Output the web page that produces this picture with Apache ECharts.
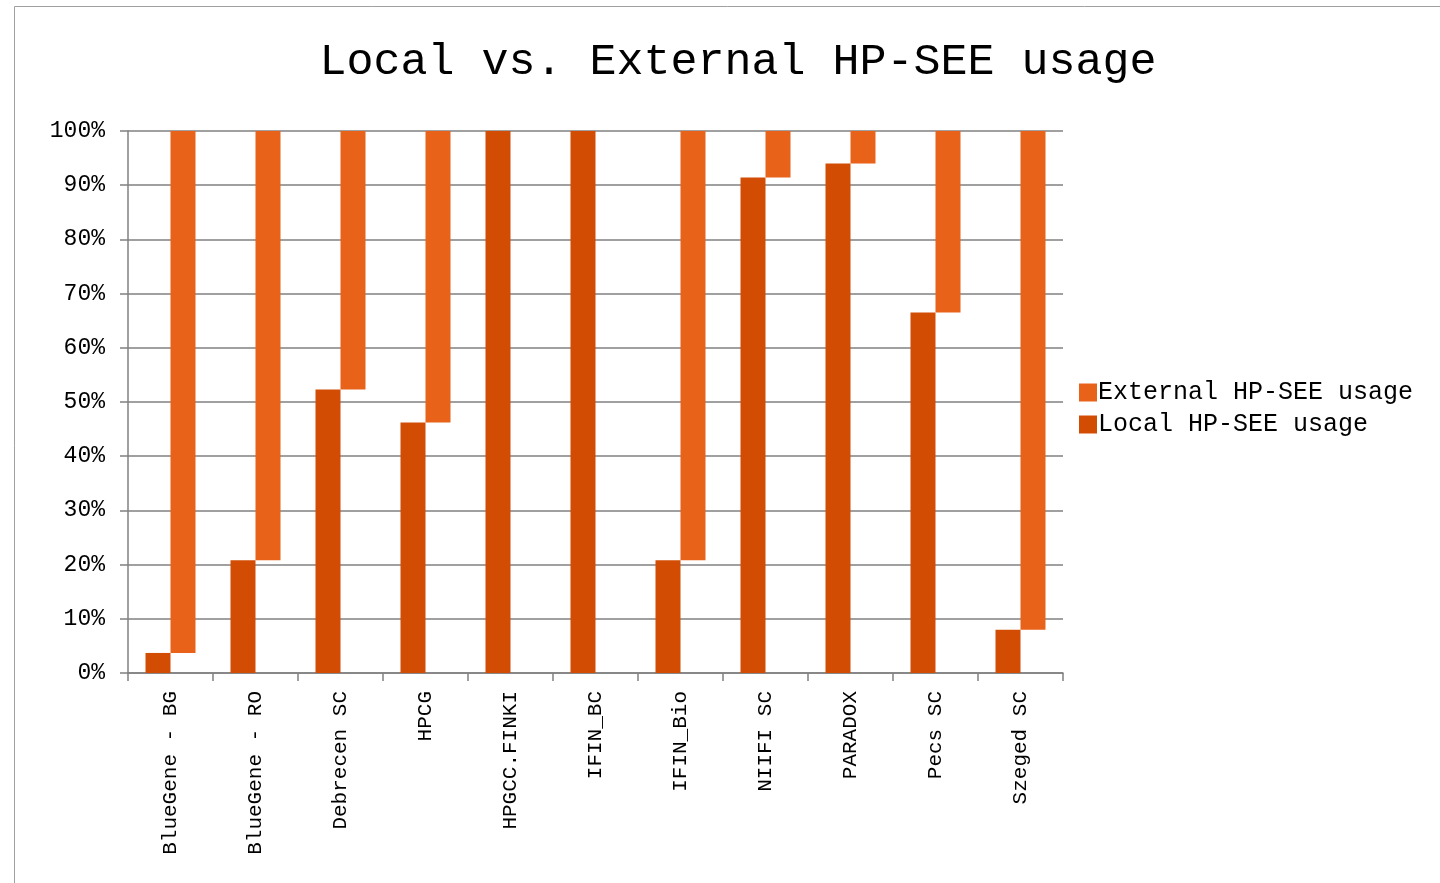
<!DOCTYPE html>
<html>
<head>
<meta charset="utf-8">
<script src="https://cdn.jsdelivr.net/npm/echarts@6/dist/echarts.min.js"></script>
<style>html,body{margin:0;padding:0;background:#fff}#c{width:1440px;height:883px}</style>
</head>
<body>
<div id="c"></div>
<script>
const categories = ['BlueGene - BG','BlueGene - RO','Debrecen SC','HPCG','HPGCC.FINKI','IFIN_BC','IFIN_Bio','NIIFI SC','PARADOX','Pecs SC','Szeged SC'];
const localUsage = [3.7, 20.8, 52.3, 46.2, 100, 100, 20.8, 91.4, 94.0, 66.5, 8.0];
const externalUsage = [96.3, 79.2, 47.7, 53.8, 0, 0, 79.2, 8.6, 6.0, 33.5, 92.0];
const yTicks = [0,10,20,30,40,50,60,70,80,90,100];

const FONT = '"Liberation Mono", "DejaVu Sans Mono", monospace';
const cLocal = '#d24c04';
const cExt = '#e8621a';

const chart = echarts.init(document.getElementById('c'));
chart.setOption({
  animation: false,
  backgroundColor: '#fff',
  graphic: [{
    type: 'rect', shape: {x: 14.5, y: 6.5, width: 1440, height: 900},
    style: {fill: 'none', stroke: '#a0a0a0', lineWidth: 1}, silent: true
  }],
  title: {
    text: 'Local vs. External HP-SEE usage',
    left: 733, textAlign: 'center', top: 35,
    textStyle: {fontFamily: FONT, fontSize: 45, fontWeight: 'normal', color: '#000'}
  },
  legend: {
    orient: 'vertical', left: 1074, top: 375,
    data: ['External HP-SEE usage', 'Local HP-SEE usage'],
    itemWidth: 18, itemHeight: 18, itemGap: 7, icon: 'rect',
    textStyle: {fontFamily: FONT, fontSize: 25, color: '#000', padding: [0,0,0,-4]}
  },
  grid: {left: 128, right: 377, top: 131, bottom: 210, containLabel: false},
  xAxis: {
    type: 'category', data: categories,
    axisLine: {lineStyle: {color: '#808080', width: 1.5}},
    axisTick: {show: true, length: 8, alignWithLabel: false, lineStyle: {color: '#808080', width: 1.5}},
    axisLabel: {rotate: 90, margin: 18, fontFamily: FONT, fontSize: 21, color: '#000', interval: 0}
  },
  yAxis: {
    type: 'value', min: 0, max: 100, interval: 10,
    axisLine: {show: true, lineStyle: {color: '#808080', width: 1.5}},
    axisTick: {show: true, length: 8, lineStyle: {color: '#808080', width: 1.5}},
    splitLine: {show: true, lineStyle: {color: '#808080', width: 1.5}},
    axisLabel: {formatter: v => v + '%', margin: 23, fontFamily: FONT, fontSize: 23, color: '#000'}
  },
  series: [
    {name: 'Local HP-SEE usage', type: 'bar', data: localUsage, barWidth: 25, barGap: '0%',
     itemStyle: {color: cLocal}},
    {name: 'ext-base', type: 'bar', stack: 'ext', data: localUsage, barWidth: 25, barGap: '0%',
     itemStyle: {color: 'transparent'}, silent: true, tooltip: {show: false}},
    {name: 'External HP-SEE usage', type: 'bar', stack: 'ext', data: externalUsage, barWidth: 25, barGap: '0%',
     itemStyle: {color: cExt}}
  ]
});
</script>
</body>
</html>
